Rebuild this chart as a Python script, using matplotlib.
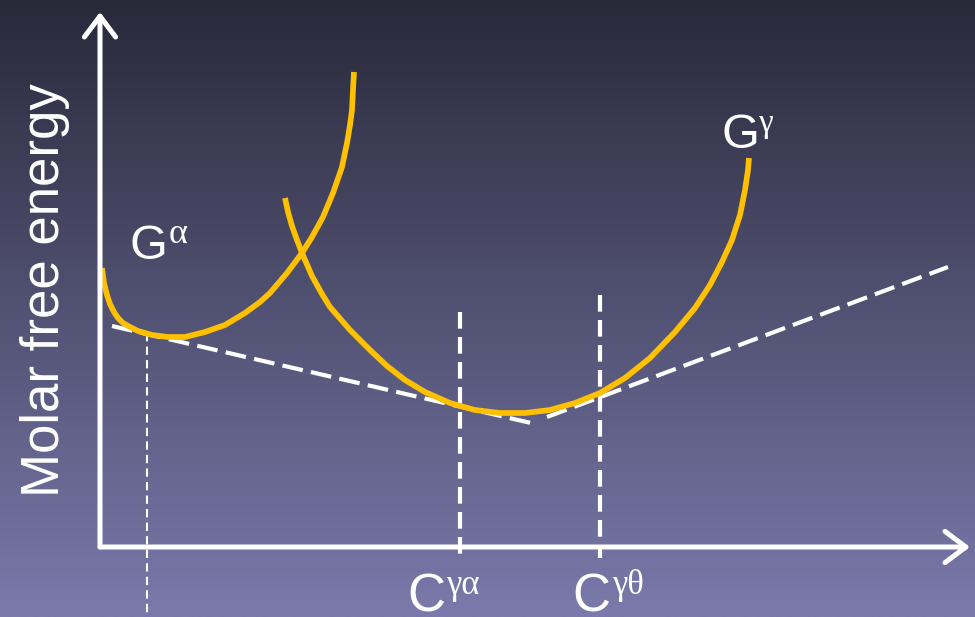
import matplotlib
matplotlib.use("Agg")
import matplotlib.pyplot as plt
import numpy as np

# ----- data (figure pixel coordinates, y grows downward) -----
G_ALPHA_X = [102, 104, 107, 110, 114, 118, 123, 130, 138, 152, 168, 185,
             205, 225, 245, 260, 270, 287, 302, 312, 323, 333, 342, 347,
             350, 352, 353, 354]
G_ALPHA_Y = [268, 283, 295, 304, 312, 318, 323, 327, 331, 335, 337, 337,
             332, 325, 313, 302, 293, 273, 253, 237, 217, 193, 167, 143,
             125, 110, 90, 72]

G_GAMMA_X = [285, 288, 292, 297, 302, 312, 322, 330, 350, 370, 387, 405,
             425, 450, 475, 500, 525, 550, 575, 600, 625, 650, 675, 695,
             710, 722, 732, 740, 745, 748, 749]
G_GAMMA_Y = [198, 212, 226, 240, 253, 276, 294, 307, 330, 350, 366, 380,
             392, 403, 410, 413, 413, 410, 403, 393, 378, 358, 332, 308,
             285, 262, 240, 215, 190, 170, 158]

TANGENT_ALPHA_X = [112, 531]
TANGENT_ALPHA_Y = [326, 423]
TANGENT_GAMMA_X = [547, 948]
TANGENT_GAMMA_Y = [417, 267]

C_LINES_X = [460, 600]
C_LINES_TOP = [312, 295]
C_LINES_BOTTOM = [557, 558]
C_LABEL_X = [407, 572]
C_SUP_X = [446, 612]
C_LABELS = ["γα", "γθ"]

ALPHA_MARK_X = 147
ALPHA_MARK_TOP = 333

ORIGIN = (100, 547)
Y_TIP = (100, 12)
X_TIP = (970, 547)

W, H = 975, 617
YELLOW = "#ffc000"
SANS = ["Liberation Sans", "DejaVu Sans"]
SERIF = ["Liberation Serif", "DejaVu Serif"]

fig = plt.figure(figsize=(W / 100, H / 100), dpi=100)
ax = fig.add_axes([0, 0, 1, 1])
ax.set_xlim(0, W)
ax.set_ylim(H, 0)
ax.axis("off")

# vertical gradient background
top = np.array([41, 41, 58]) / 255
bot = np.array([122, 122, 172]) / 255
t = np.linspace(0, 1, 256)[:, None]
grad = (top * (1 - t) + bot * t)[:, None, :]
ax.imshow(grad, extent=[0, W, H, 0], aspect="auto", zorder=0)

# axes with open arrowheads
for tip in (Y_TIP, X_TIP):
    ax.annotate("", xy=tip, xytext=ORIGIN,
                arrowprops=dict(arrowstyle="->,head_length=1.0,head_width=0.75",
                                color="white", lw=3.6, mutation_scale=15,
                                shrinkA=0, shrinkB=0, capstyle="round",
                                joinstyle="round"), zorder=5)

# tangent lines
for xs, ys in ((TANGENT_ALPHA_X, TANGENT_ALPHA_Y), (TANGENT_GAMMA_X, TANGENT_GAMMA_Y)):
    ax.plot(xs, ys, color="white", lw=3, dashes=(5, 2), zorder=2)

# composition markers
for x, y0, y1 in zip(C_LINES_X, C_LINES_TOP, C_LINES_BOTTOM):
    ax.plot([x, x], [y0, y1], color="white", lw=3, dashes=(4, 2), zorder=2)
ax.plot([ALPHA_MARK_X, ALPHA_MARK_X], [ALPHA_MARK_TOP, H], color="white",
        lw=1.5, dashes=(4, 2.5), zorder=2)

# free energy curves
for xs, ys in ((G_ALPHA_X, G_ALPHA_Y), (G_GAMMA_X, G_GAMMA_Y)):
    ax.plot(xs, ys, color=YELLOW, lw=4.1, solid_capstyle="butt",
            solid_joinstyle="round", zorder=3)

# labels
ax.text(45, 290, "Molar free energy", rotation=90, ha="center", va="center",
        color="white", fontsize=38, family=SANS)

ax.text(129, 259, "G", color="white", fontsize=35, family=SANS, va="baseline")
ax.text(169, 243, "α", color="white", fontsize=26, family=SERIF, va="baseline")

ax.text(721, 148, "G", color="white", fontsize=35, family=SANS, va="baseline")
ax.text(758, 132, "γ", color="white", fontsize=24, family=SERIF, va="baseline")

for x, xs, sup in zip(C_LABEL_X, C_SUP_X, C_LABELS):
    ax.text(x, 611, "C", color="white", fontsize=38, family=SANS, va="baseline")
    ax.text(xs, 594, sup, color="white", fontsize=25, family=SERIF, va="baseline")

fig.savefig("out.png", dpi=100)
